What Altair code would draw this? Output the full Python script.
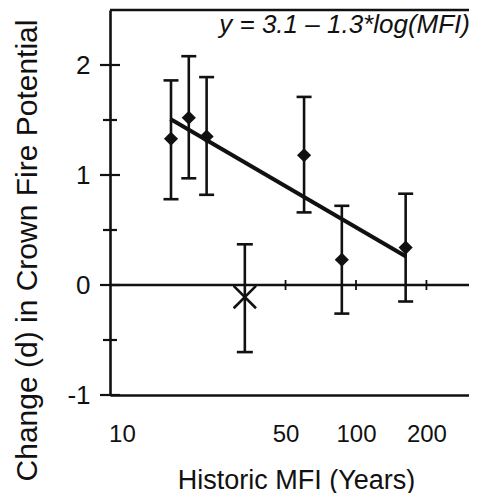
import altair as alt
import pandas as pd

# ---- data ----
mfi = [16.2, 19.3, 23.0, 60.0, 87.0, 163.0]
d_mean = [1.33, 1.52, 1.35, 1.18, 0.23, 0.34]
d_low = [0.78, 0.97, 0.82, 0.66, -0.26, -0.15]
d_high = [1.86, 2.08, 1.89, 1.71, 0.72, 0.83]

outlier_mfi = [33.5]
outlier_mean = [-0.11]
outlier_low = [-0.61]
outlier_high = [0.37]

fit_mfi = [16.1, 163.6]
fit_d = [1.51, 0.26]

x_tick_values = [10, 50, 100, 200]
zero_line_ticks = [50, 100, 200]
y_major = [-1, 0, 1, 2]
y_minor = [-0.5, 0.5, 1.5]
zero_level = [0]
equation = ["y = 3.1 \u2013 1.3*log(MFI)"]

x_title = "Historic MFI (Years)"
y_title = "Change (d) in Crown Fire Potential"

W, H = 359, 385
FONT = "Liberation Sans"
INK = "#111111"

pts = pd.DataFrame({"mfi": mfi, "d": d_mean, "lo": d_low, "hi": d_high})
out = pd.DataFrame({"mfi": outlier_mfi, "d": outlier_mean, "lo": outlier_low, "hi": outlier_high})
fit = pd.DataFrame({"mfi": fit_mfi, "d": fit_d})
ymaj = pd.DataFrame({"d": y_major})
ymin = pd.DataFrame({"d": y_minor})
zt = pd.DataFrame({"mfi": zero_line_ticks, "d": [0] * len(zero_line_ticks)})
zl = pd.DataFrame({"d": zero_level})
eq = pd.DataFrame({"t": equation})

xs = alt.Scale(type="log", domain=[8.89, 304], nice=False)
ys = alt.Scale(domain=[-1, 2.5], nice=False, zero=False)

x_axis = alt.Axis(
    values=x_tick_values, labelExpr="'' + datum.value", labelFontSize=24, labelFont=FONT,
    labelColor=INK, labelPadding=46, labelBaseline="alphabetic", ticks=False, tickSize=0,
    domainWidth=2.6, domainColor=INK, grid=False, labelFlush=False,
    title=x_title, titleFont=FONT, titleFontSize=27, titleFontWeight="normal",
    titleColor=INK, titleX=186, titleY=93, titleBaseline="alphabetic", titleAlign="center",
)
y_axis = alt.Axis(
    values=y_major, labelExpr="'' + datum.value", labelFontSize=26, labelFont=FONT,
    labelColor=INK, labelPadding=20, ticks=False, tickSize=0, domainWidth=2.6,
    domainColor=INK, grid=False, title=y_title, titleFont=FONT, titleFontSize=30,
    titleFontWeight="normal", titleColor=INK, titleAngle=270, titleX=-74, titleY=240,
    titleAlign="center", titleBaseline="alphabetic",
)


def X(field="mfi"):
    return alt.X(f"{field}:Q", scale=xs, axis=x_axis, title=x_title)


def Y(field="d"):
    return alt.Y(f"{field}:Q", scale=ys, axis=y_axis, title=y_title)


SW = 2.6

diamonds = alt.Chart(pts).mark_point(
    shape="diamond", filled=True, size=200, color=INK, opacity=1
).encode(x=X(), y=Y())

bars = alt.Chart(pts).mark_rule(strokeWidth=SW, color=INK).encode(
    x=X(), y=Y("lo"), y2="hi:Q")
cap_lo = alt.Chart(pts).mark_tick(orient="horizontal", size=15, thickness=SW, color=INK, opacity=1).encode(
    x=X(), y=Y("lo"))
cap_hi = alt.Chart(pts).mark_tick(orient="horizontal", size=15, thickness=SW, color=INK, opacity=1).encode(
    x=X(), y=Y("hi"))

obars = alt.Chart(out).mark_rule(strokeWidth=SW, color=INK).encode(
    x=X(), y=Y("lo"), y2="hi:Q")
ocap_lo = alt.Chart(out).mark_tick(orient="horizontal", size=16, thickness=SW, color=INK, opacity=1).encode(
    x=X(), y=Y("lo"))
ocap_hi = alt.Chart(out).mark_tick(orient="horizontal", size=16, thickness=SW, color=INK, opacity=1).encode(
    x=X(), y=Y("hi"))
cross = alt.Chart(out).mark_point(
    shape="M-1,-1L1,1M-1,1L1,-1", filled=False, size=500, strokeWidth=SW, color=INK, opacity=1
).encode(x=X(), y=Y())

fit_line = alt.Chart(fit).mark_line(strokeWidth=4, color=INK).encode(x=X(), y=Y())

zero_rule = alt.Chart(zl).mark_rule(strokeWidth=2.4, color=INK).encode(y=Y())
zero_ticks = alt.Chart(zt).mark_tick(orient="vertical", size=10, thickness=1.8, color=INK, opacity=1).encode(
    x=X(), y=Y())

major_ticks = alt.Chart(ymaj).mark_tick(orient="horizontal", size=20, thickness=2.2, color=INK, opacity=1).encode(
    y=Y(), x=alt.value(0))
minor_ticks = alt.Chart(ymin).mark_tick(orient="horizontal", size=14, thickness=2.2, color=INK, opacity=1).encode(
    y=Y(), x=alt.value(0))

top_rule = alt.Chart(zl).mark_rule(strokeWidth=2.6, color=INK).encode(
    x=alt.value(0), x2=alt.value(W), y=alt.value(0))

eq_text = alt.Chart(eq).mark_text(
    align="right", baseline="alphabetic", fontSize=26, fontStyle="italic", font=FONT, color=INK
).encode(x=alt.value(W + 1), y=alt.value(23), text="t:N")

chart = alt.layer(
    diamonds, zero_rule, top_rule, major_ticks, minor_ticks, zero_ticks,
    bars, cap_lo, cap_hi, obars, ocap_lo, ocap_hi, cross, fit_line, eq_text,
).properties(
    width=W, height=H,
    autosize="none",
    padding={"left": 102, "top": 2, "right": 0, "bottom": 98},
).configure_view(stroke=None).configure(background="white")

chart.save("out.html", embed_options={"renderer": "svg", "actions": False})
